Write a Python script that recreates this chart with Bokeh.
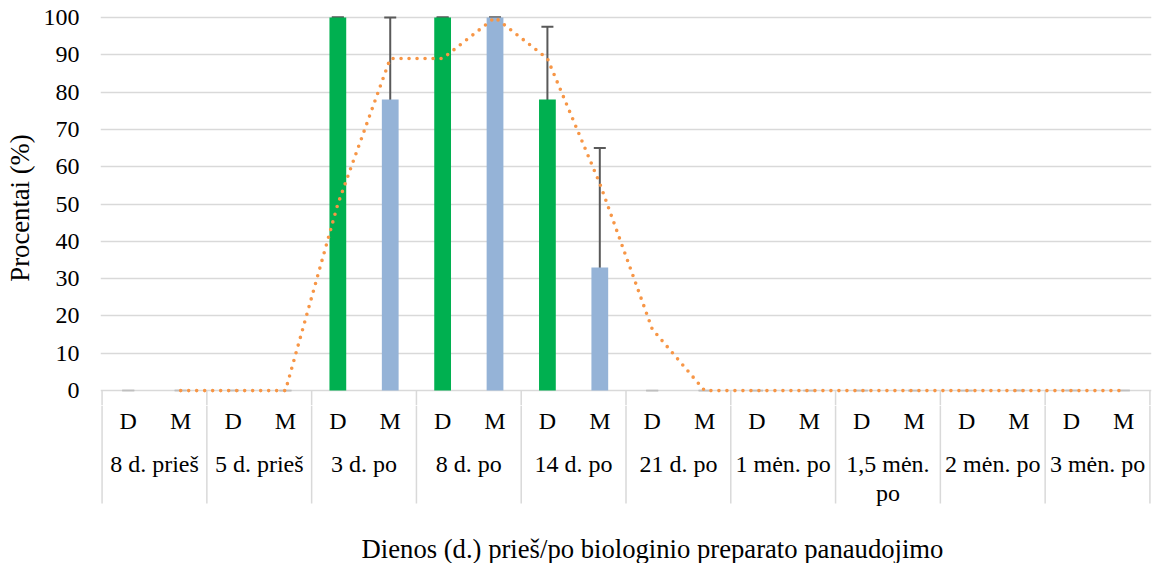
from bokeh.plotting import figure
from bokeh.layouts import column
from bokeh.models import Range1d, FixedTicker, ColumnDataSource, Whisker, TeeHead, Label
from bokeh.embed import file_html
from bokeh.resources import INLINE
from bokeh.core.properties import value

# ---- data ----
groups = ["8 d. prieš", "5 d. prieš", "3 d. po", "8 d. po", "14 d. po",
          "21 d. po", "1 mėn. po", "1,5 mėn.\npo", "2 mėn. po", "3 mėn. po"]
subs = ["D", "M"]
d_values = [0, 0, 100, 100, 78, 0, 0, 0, 0, 0]
m_values = [0, 0, 78, 100, 33, 0, 0, 0, 0, 0]
d_errors = [0, 0, 0, 0, 19.5, 0, 0, 0, 0, 0]
m_errors = [0, 0, 22, 0, 32, 0, 0, 0, 0, 0]
y_ticks = [0, 10, 20, 30, 40, 50, 60, 70, 80, 90, 100]
y_title = "Procentai (%)"
x_title = "Dienos (d.) prieš/po biologinio preparato panaudojimo"

# ---- styles ----
FONT = "Liberation Serif"
FS = "24px"
FS_T = "26.67px"
GREEN = "#00B050"
BLUE = "#95B3D7"
ORANGE = "#F79646"
GRID = "#D9D9D9"
ERR = "#595959"
ERR_ZERO = "#BFBFBF"
TXT = "#000000"

n_groups = len(groups)
n_slots = n_groups * len(subs)

vals, errs, cols, xs, sub_lab = [], [], [], [], []
for g in range(n_groups):
    for k, (v, e, c) in enumerate([(d_values[g], d_errors[g], GREEN),
                                   (m_values[g], m_errors[g], BLUE)]):
        xs.append(g * 2 + k + 0.5)
        vals.append(v)
        errs.append(e)
        cols.append(c)
        sub_lab.append(subs[k])

src = ColumnDataSource(dict(x=xs, top=vals, color=cols, lab=sub_lab))


def err_source(keep):
    idx = [i for i in range(len(vals)) if keep(vals[i])]
    return ColumnDataSource(dict(
        x=[xs[i] for i in idx],
        upper=[vals[i] + errs[i] for i in idx],
        lower=[vals[i] - errs[i] for i in idx],
    ))


err_src = err_source(lambda v: v != 0)
err_src_zero = err_source(lambda v: v == 0)

# moving-average trendline (period 2)
ma_x = xs[1:]
ma_y = [(vals[i - 1] + vals[i]) / 2 for i in range(1, len(vals))]

x_range = Range1d(-0.03, n_slots + 0.03)
bx = [i * 2 for i in range(n_groups + 1)]

Y_LOW = -4.0

# ---------- top: plot area ----------
p = figure(width=1155, height=405, output_backend="svg", toolbar_location=None,
           x_range=x_range, y_range=Range1d(Y_LOW, 101.88),
           min_border_left=100, min_border_right=4, min_border_top=10,
           min_border_bottom=0)
p.outline_line_color = None
p.xaxis.visible = False
p.xgrid.visible = False
p.yaxis.ticker = FixedTicker(ticks=y_ticks)
p.ygrid.ticker = FixedTicker(ticks=y_ticks)
p.ygrid.grid_line_color = GRID
p.ygrid.grid_line_width = 1.5
p.yaxis.axis_line_color = None
p.yaxis.major_tick_line_color = None
p.yaxis.minor_tick_line_color = None
p.yaxis.major_tick_out = 0
p.yaxis.major_tick_in = 0
p.yaxis.major_label_standoff = 21
p.yaxis.major_label_text_font = FONT
p.yaxis.major_label_text_font_size = FS
p.yaxis.major_label_text_color = TXT
p.yaxis.axis_label = y_title
p.yaxis.axis_label_text_font = FONT
p.yaxis.axis_label_text_font_size = FS_T
p.yaxis.axis_label_text_font_style = "normal"
p.yaxis.axis_label_text_color = TXT
p.yaxis.axis_label_standoff = 6

p.segment(x0=bx, y0=[0] * len(bx), x1=bx, y1=[Y_LOW] * len(bx),
          line_color=GRID, line_width=1.5)

p.vbar(x="x", top="top", width=0.32, bottom=0, color="color", source=src,
       line_color=None)

p.add_layout(Whisker(source=err_src_zero, base="x", upper="upper", lower="lower",
                     line_color=ERR_ZERO, line_width=1.5,
                     upper_head=TeeHead(size=12, line_color=ERR_ZERO, line_width=1.5),
                     lower_head=TeeHead(size=12, line_color=ERR_ZERO, line_width=1.5)))
p.add_layout(Whisker(source=err_src, base="x", upper="upper", lower="lower",
                     line_color=ERR, line_width=2,
                     upper_head=TeeHead(size=12, line_color=ERR, line_width=2),
                     lower_head=TeeHead(size=12, line_color=ERR, line_width=2)))

p.line(ma_x, ma_y, line_color=ORANGE, line_width=3.6, line_dash="0 8",
       line_cap="round")

# ---------- bottom: category table ----------
BH = 158
b = figure(width=1155, height=BH, output_backend="svg", toolbar_location=None,
           x_range=x_range, y_range=Range1d(-BH, 0),
           min_border_left=100, min_border_right=4, min_border_top=0,
           min_border_bottom=0)
b.outline_line_color = None
b.axis.visible = False
b.grid.visible = False

b.segment(x0=bx, y0=[0] * len(bx), x1=bx, y1=[-98] * len(bx),
          line_color=GRID, line_width=1.5)

b.text(x="x", y=-15, text="lab", source=src, text_font=value(FONT),
       text_font_size=FS, text_color=TXT, text_align="center",
       text_baseline="middle")

gx, gy, gt = [], [], []
for g, lab in enumerate(groups):
    for k, line in enumerate(lab.split("\n")):
        gx.append(g * 2 + 1)
        gy.append(-58 - 29 * k)
        gt.append(line)
b.text(x=gx, y=gy, text=gt, text_font=value(FONT), text_font_size=FS,
       text_color=TXT, text_align="center", text_baseline="middle")

b.add_layout(Label(x=552, y=-143, x_units="screen", y_units="data",
                   text=x_title, text_font=FONT, text_font_size=FS_T,
                   text_color=TXT, text_align="center",
                   text_baseline="middle"))

layout = column(p, b, spacing=0)
open("out.html", "w").write(file_html(layout, INLINE))
